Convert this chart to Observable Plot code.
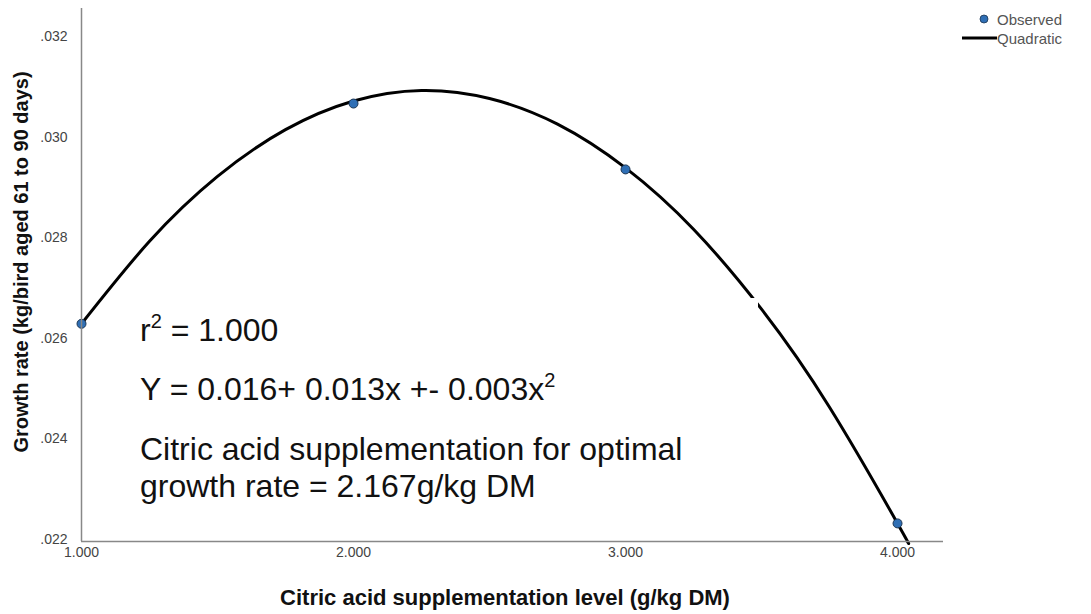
<!DOCTYPE html>
<html>
<head>
<meta charset="utf-8">
<script src="https://cdn.jsdelivr.net/npm/d3@7"></script>
<script src="https://cdn.jsdelivr.net/npm/@observablehq/plot@0.6"></script>
<style>
  html, body { margin: 0; padding: 0; background: #fff; }
  #wrap { position: relative; width: 1091px; height: 614px; font-family: "Liberation Sans", Arial, sans-serif; }
  #chart svg { display: block; }
  .legend { position: absolute; font-size: 15px; color: #555; display: flex; align-items: center; height: 16px; }
  .ann { position: absolute; left: 120px; top: 298px; width: 638px; height: 224px; background: #fff; }
  .ann div { position: absolute; left: 20px; font-size: 32px; line-height: 38px; color: #111; white-space: nowrap; }
  .ann sup { font-size: 20px; line-height: 0; vertical-align: 13px; }
  .xlab { position: absolute; left: 505px; top: 585px; transform: translateX(-50%); white-space: nowrap; font-weight: bold; font-size: 22px; color: #111; }
  .ylab { position: absolute; left: 21px; top: 262px; transform: translate(-50%, -50%) rotate(-90deg); white-space: nowrap; font-weight: bold; font-size: 20px; color: #111; }
</style>
</head>
<body>
<div id="wrap">
  <div id="chart"></div>
</div>
<script>
// Observed data
const levels = [1, 2, 3, 4];
const observed = [0.02633, 0.03071, 0.02940, 0.02236];

// Quadratic fit curve
const curveX = [1.00, 1.25, 1.50, 1.75, 2.00, 2.25, 2.50, 2.75, 3.00, 3.25, 3.50, 3.75, 4.00, 4.036];
const curveY = [0.02633, 0.02797, 0.02926, 0.03019, 0.03076, 0.03097, 0.03081, 0.03030, 0.02943, 0.02821, 0.02662, 0.02467, 0.02236, 0.02200];

// Tick labels
const xTicks = [1, 2, 3, 4];
const yTicks = [0.022, 0.024, 0.026, 0.028, 0.030, 0.032];

const xTitle = "Citric acid supplementation level (g/kg DM)";
const yTitle = "Growth rate (kg/bird aged 61 to 90 days)";
const legendItems = ["Observed", "Quadratic"];
const annLines = ["r<sup>2</sup> = 1.000", "Y = 0.016+ 0.013x +- 0.003x<sup>2</sup>", "Citric acid supplementation for optimal", "growth rate = 2.167g/kg DM"];

const points = levels.map((x, i) => ({x, y: observed[i]}));
const curve = curveX.map((x, i) => ({x, y: curveY[i]}));

const plot = Plot.plot({
  width: 1091,
  height: 614,
  marginLeft: 81,
  marginRight: 148,
  marginTop: 8,
  marginBottom: 73,
  style: {fontFamily: "'Liberation Sans', Arial, sans-serif", fontSize: "14px", color: "#444", background: "#fff"},
  x: {domain: [1, 4.169], label: null},
  y: {domain: [0.022, 0.0326], label: null},
  marks: [
    Plot.axisY(yTicks, {tickSize: 0, tickPadding: 14, tickFormat: d => d.toFixed(3).replace(/^0/, ""), fontSize: 14, fill: "#444", dy: -2}),
    Plot.axisX(xTicks, {tickSize: 0, tickPadding: 6, tickFormat: d => d.toFixed(3), fontSize: 14, fill: "#444"}),
    Plot.line(curve, {x: "x", y: "y", stroke: "#000", strokeWidth: 3, curve: "natural"}),
    Plot.dot(points, {x: "x", y: "y", r: 4.5, fill: "#2f6fb5", stroke: "#1c3552", strokeWidth: 1}),
    Plot.ruleX([1], {stroke: "#888", strokeWidth: 1.5}),
    Plot.ruleY([0.022], {stroke: "#888", strokeWidth: 1.5})
  ]
});
document.getElementById("chart").appendChild(plot);

const wrap = document.getElementById("wrap");

// Annotation box
const ann = document.createElement("div");
ann.className = "ann";
const tops = [13, 72, 132, 169];
annLines.forEach((t, i) => {
  const d = document.createElement("div");
  d.innerHTML = t;
  d.style.top = tops[i] + "px";
  ann.appendChild(d);
});
wrap.appendChild(ann);

// Axis titles
const xl = document.createElement("div");
xl.className = "xlab"; xl.textContent = xTitle; wrap.appendChild(xl);
const yl = document.createElement("div");
yl.className = "ylab"; yl.textContent = yTitle; wrap.appendChild(yl);

// Legend
const l1 = document.createElement("div");
l1.className = "legend"; l1.style.left = "962px"; l1.style.top = "11px";
l1.innerHTML = '<svg width="35" height="16"><circle cx="22" cy="8" r="4" fill="#2f6fb5" stroke="#1c3552" stroke-width="0.8"/></svg><span>' + legendItems[0] + '</span>';
wrap.appendChild(l1);
const l2 = document.createElement("div");
l2.className = "legend"; l2.style.left = "962px"; l2.style.top = "30px";
l2.innerHTML = '<svg width="35" height="16"><line x1="0" x2="35" y1="8" y2="8" stroke="#000" stroke-width="3"/></svg><span>' + legendItems[1] + '</span>';
wrap.appendChild(l2);
</script>
</body>
</html>
